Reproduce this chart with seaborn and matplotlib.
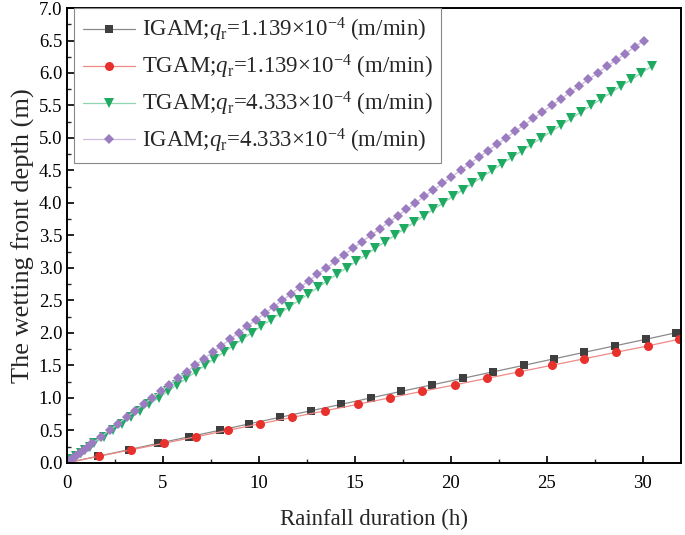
import matplotlib
matplotlib.use("Agg")
import matplotlib.pyplot as plt
import seaborn as sns
import numpy as np
from matplotlib.ticker import MultipleLocator

# wetting front depth (m) vs rainfall duration (h)
igam_low_t = [0, 1.6, 3.2, 4.75, 6.35, 7.95, 9.5, 11.1, 12.7, 14.3, 15.85,
              17.43, 19.03, 20.63, 22.21, 23.81, 25.38, 26.96, 28.56, 30.16, 31.72]
igam_low_d = [0, 0.1, 0.2, 0.3, 0.4, 0.5, 0.6, 0.7, 0.8, 0.9, 1.0,
              1.1, 1.2, 1.3, 1.4, 1.5, 1.6, 1.7, 1.8, 1.9, 2.0]

tgam_low_t = [0, 1.65, 3.35, 5.05, 6.7, 8.4, 10.06, 11.75, 13.45, 15.15, 16.83,
              18.52, 20.22, 21.89, 23.57, 25.26, 26.94, 28.61, 30.29, 31.89]
tgam_low_d = [0, 0.1, 0.2, 0.3, 0.4, 0.5, 0.6, 0.7, 0.8, 0.9, 1.0,
              1.1, 1.2, 1.3, 1.4, 1.5, 1.6, 1.7, 1.8, 1.9]

tgam_high_t = [0, 0.12, 0.25, 0.47, 0.7, 0.95, 1.18, 1.42, 1.90, 2.37, 2.85, 3.33, 3.81, 4.29, 4.77,
               5.25, 5.73, 6.22, 6.70, 7.19, 7.67, 8.16, 8.65, 9.13, 9.62,
               10.11, 10.61, 11.10, 11.59, 12.09, 12.58, 13.08, 13.57, 14.07, 14.57,
               15.07, 15.57, 16.07, 16.57, 17.08, 17.58, 18.09, 18.59, 19.10, 19.61,
               20.11, 20.62, 21.13, 21.64, 22.16, 22.67, 23.18, 23.70, 24.21, 24.73,
               25.25, 25.77, 26.28, 26.80, 27.33, 27.85, 28.37, 28.89, 29.42, 29.94, 30.47]
tgam_high_d = [0, 0.03, 0.06, 0.1, 0.15, 0.2, 0.25, 0.3, 0.4, 0.5, 0.6, 0.7, 0.8, 0.9, 1.0,
               1.1, 1.2, 1.3, 1.4, 1.5, 1.6, 1.7, 1.8, 1.9, 2.0,
               2.1, 2.2, 2.3, 2.4, 2.5, 2.6, 2.7, 2.8, 2.9, 3.0,
               3.1, 3.2, 3.3, 3.4, 3.5, 3.6, 3.7, 3.8, 3.9, 4.0,
               4.1, 4.2, 4.3, 4.4, 4.5, 4.6, 4.7, 4.8, 4.9, 5.0,
               5.1, 5.2, 5.3, 5.4, 5.5, 5.6, 5.7, 5.8, 5.9, 6.0, 6.1]

igam_high_t = [0, 0.11, 0.22, 0.33, 0.44, 0.66, 0.88, 1.10, 1.32, 1.77, 2.21, 2.65, 3.10, 3.54, 3.99, 4.44,
               4.88, 5.33, 5.78, 6.23, 6.68, 7.13, 7.58, 8.03, 8.49, 8.94,
               9.39, 9.85, 10.31, 10.76, 11.22, 11.68, 12.14, 12.59, 13.05, 13.52,
               13.98, 14.44, 14.90, 15.36, 15.83, 16.29, 16.76, 17.23, 17.69, 18.16,
               18.63, 19.10, 19.57, 20.04, 20.51, 20.98, 21.45, 21.93, 22.40, 22.88,
               23.35, 23.83, 24.30, 24.78, 25.26, 25.74, 26.22, 26.70, 27.18, 27.66,
               28.14, 28.63, 29.11, 29.59, 30.08]
igam_high_d = [0, 0.025, 0.05, 0.075, 0.1, 0.15, 0.2, 0.25, 0.3, 0.4, 0.5, 0.6, 0.7, 0.8, 0.9, 1.0,
               1.1, 1.2, 1.3, 1.4, 1.5, 1.6, 1.7, 1.8, 1.9, 2.0,
               2.1, 2.2, 2.3, 2.4, 2.5, 2.6, 2.7, 2.8, 2.9, 3.0,
               3.1, 3.2, 3.3, 3.4, 3.5, 3.6, 3.7, 3.8, 3.9, 4.0,
               4.1, 4.2, 4.3, 4.4, 4.5, 4.6, 4.7, 4.8, 4.9, 5.0,
               5.1, 5.2, 5.3, 5.4, 5.5, 5.6, 5.7, 5.8, 5.9, 6.0,
               6.1, 6.2, 6.3, 6.4, 6.5]

labels = [r"IGAM;$q_\mathrm{r}$=1.139×10$^{\mathrm{-4}}$ (m/min)",
          r"TGAM;$q_\mathrm{r}$=1.139×10$^{\mathrm{-4}}$ (m/min)",
          r"TGAM;$q_\mathrm{r}$=4.333×10$^{\mathrm{-4}}$ (m/min)",
          r"IGAM;$q_\mathrm{r}$=4.333×10$^{\mathrm{-4}}$ (m/min)"]

sns.set_style("ticks")
plt.rcParams['font.family'] = ['Liberation Serif', 'DejaVu Serif']
plt.rcParams['mathtext.fontset'] = 'custom'
plt.rcParams['mathtext.rm'] = 'Liberation Serif'
plt.rcParams['mathtext.it'] = 'Liberation Serif:italic'

fig = plt.figure(figsize=(6.85, 5.35), dpi=100)
ax = fig.add_axes([0.098, 0.135, 0.896, 0.850])

series = [
    (igam_low_t, igam_low_d, "s", "#3f3f3f", "#8a8a8a", 6),
    (tgam_low_t, tgam_low_d, "o", "#e8302c", "#ee8a86", 6.5),
    (tgam_high_t, tgam_high_d, "v", "#1faa62", "#8fd6b0", 6.5),
    (igam_high_t, igam_high_d, "D", "#9b7cc0", "#cdbce0", 5.5),
]
for (t, d, mk, mc, lc, ms), lab in zip(series, labels):
    sns.lineplot(x=t, y=d, ax=ax, sort=False, color=lc, linewidth=0.9,
                 marker=mk, markersize=ms, markerfacecolor=mc, markeredgecolor=mc,
                 markeredgewidth=0, label=lab)

ax.set_xlim(0, 32)
ax.set_ylim(0, 7.0)
ax.xaxis.set_major_locator(MultipleLocator(5))
ax.xaxis.set_minor_locator(MultipleLocator(2.5))
ax.yaxis.set_major_locator(MultipleLocator(0.5))
ax.yaxis.set_minor_locator(MultipleLocator(0.25))
ax.yaxis.set_major_formatter(matplotlib.ticker.FormatStrFormatter('%.1f'))
ax.tick_params(which='major', direction='in', length=5, width=1.2, labelsize=13.5, colors='black')
ax.tick_params(axis='x', which='major', pad=9)
ax.tick_params(which='minor', direction='in', length=3, width=1.0)
for s in ax.spines.values():
    s.set_linewidth(1.4)
    s.set_color('black')
    s.set_visible(True)

ax.set_xlabel("Rainfall duration (h)", fontsize=16.5, labelpad=12)
ax.set_ylabel("The wetting front depth (m)", fontsize=19, labelpad=3)

leg = ax.legend(loc='upper left', bbox_to_anchor=(0.012, 1.0), borderaxespad=0,
                fontsize=16.5, handlelength=2.3, handletextpad=0.3,
                labelspacing=0.38, fancybox=False, framealpha=1, borderpad=0.35)
leg.get_frame().set_edgecolor('#888888')
leg.get_frame().set_linewidth(0.8)

fig.savefig("out.png", dpi=100)
